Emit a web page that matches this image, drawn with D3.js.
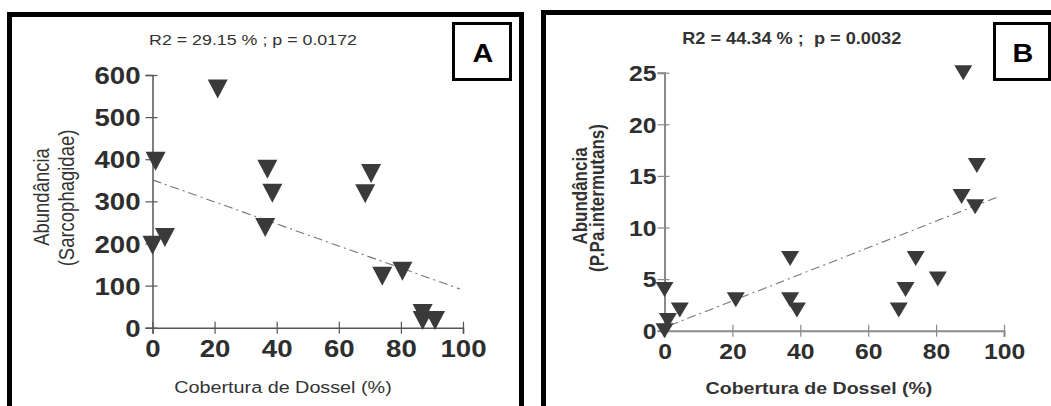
<!DOCTYPE html>
<html><head><meta charset="utf-8">
<script src="https://cdn.jsdelivr.net/npm/d3@7"></script>
<style>
body{margin:0;background:#fff}
svg{display:block}
text{font-family:"Liberation Sans",Arial,Helvetica,sans-serif;white-space:pre}
</style>
</head><body>
<svg id="c" width="1051" height="406"></svg>
<script>
// ---- data ----
const xTicks = [0, 20, 40, 60, 80, 100];
const yTicksA = [0, 100, 200, 300, 400, 500, 600];
const yTicksB = [0, 5, 10, 15, 20, 25];
const coverA = [21, 1, 37, 38.6, 70.4, 68.5, 36.3, 0, 4, 74, 80.5, 87, 87, 91];
const abundA = [567, 395, 376, 319, 366, 318, 238, 196, 214, 122, 134, 34, 17, 17];
const trendA = [[0, 351], [99, 92]];
const coverB = [88, 92, 87.5, 91.5, 37, 74, 80.5, 71, 69, 37, 39, 21, 4.5, 0, 1, 0];
const abundB = [25, 16, 13, 12, 7, 7, 5, 4, 2, 3, 2, 3, 2, 4, 1, 0];
const trendB = [[1.5, 0.5], [98.5, 13]];
const titleA = "R2 = 29.15 % ; p = 0.0172";
const titleB = "R2 = 44.34 % ;  p = 0.0032";
const xLabel = "Cobertura de Dossel (%)";
const yLabelA = ["Abundância", "(Sarcophagidae)"];
const yLabelB = ["Abundância", "(P.Pa.intermutans)"];
const panelLetters = ["A", "B"];

const SX = 1.15; // horizontal text stretch of the original picture
const svg = d3.select("#c");

function stext(g, x, y, str, o) {
  const t = g.append("text")
    .attr("transform", `translate(${x},${y})` + (o.rot ? ` rotate(-90) scale(1,${SX})` : ` scale(${SX},1)`))
    .attr("text-anchor", o.anchor || "middle")
    .attr("font-size", o.size)
    .attr("font-weight", o.bold ? "bold" : "normal")
    .attr("fill", o.fill || "#333")
    .text(str);
  if (o.central) t.attr("dominant-baseline", "central");
  return t;
}

function drawPanel(p) {
  const g = svg.append("g");
  const x = d3.scaleLinear().domain([0, 100]).range(p.xr);
  const y = d3.scaleLinear().domain(p.yd).range(p.yr);

  // title
  stext(g, p.titlePos[0], p.titlePos[1], p.title, {size: p.titleSize, bold: p.bold});

  // axes
  const xa = g.append("g").attr("transform", `translate(0,${p.yr[0]})`)
    .call(d3.axisBottom(x).tickValues(xTicks).tickSizeOuter(0).tickSize(6).tickFormat(d3.format("d")));
  const ya = g.append("g").attr("transform", `translate(${p.xr[0]},0)`)
    .call(d3.axisLeft(y).tickValues(p.yTicks).tickSizeOuter(0).tickSize(7).tickFormat(d3.format("d")));
  [xa, ya].forEach(a => {
    a.select(".domain").attr("stroke", p.axisColor).attr("stroke-width", p.axisW);
    a.selectAll(".tick line").attr("stroke", p.axisColor).attr("stroke-width", 1.2);
    a.selectAll(".tick text")
      .attr("font-family", '"Liberation Sans",Arial,sans-serif')
      .attr("font-weight", "bold").attr("font-size", p.tickSize).attr("fill", "#2e2e2e");
  });
  xa.selectAll(".tick line").attr("y1", -6).attr("y2", 6);
  ya.selectAll(".tick line").attr("x1", 5).attr("x2", -7);
  xa.selectAll(".tick text").attr("y", 0).attr("dy", 0)
    .attr("transform", `translate(0,${p.xTickBase}) scale(${SX},1)`);
  ya.selectAll(".tick text").attr("x", 0).attr("dy", "0.36em")
    .attr("transform", `translate(${-p.yTickGap},0) scale(${SX},1)`);

  // trend line
  g.append("path")
    .attr("d", d3.line().x(d => x(d[0])).y(d => y(d[1]))(p.trend))
    .attr("fill", "none").attr("stroke", "#777").attr("stroke-width", 1.1)
    .attr("stroke-dasharray", "9,4,2,4");

  // points (down triangles)
  const w = p.triW, h = p.triH;
  g.selectAll("path.pt").data(p.xs.map((v, i) => [v, p.ys[i]])).enter()
    .append("path").attr("class", "pt")
    .attr("transform", d => `translate(${x(d[0])},${y(d[1])})`)
    .attr("d", `M${-w / 2},${-h / 2}L${w / 2},${-h / 2}L0,${h / 2}Z`)
    .attr("fill", "#3a3a3a");

  // axis titles
  stext(g, p.xTitlePos[0], p.xTitlePos[1], xLabel, {size: p.xTitleSize, bold: p.bold});
  stext(g, p.yLab1[0], p.yLab1[1], p.yLabel[0], {size: p.yLabSize, bold: p.bold, rot: true, central: true});
  stext(g, p.yLab2[0], p.yLab2[1], p.yLabel[1], {size: p.yLabSize, bold: p.bold, rot: true, central: true});

  // frame
  svg.append("path").attr("d", p.frame).attr("fill", "none").attr("stroke", "#000").attr("stroke-width", 5);
  // letter box
  svg.append("rect").attr("x", p.box[0]).attr("y", p.box[1]).attr("width", p.box[2]).attr("height", p.box[3])
    .attr("fill", "#fff").attr("stroke", "#000").attr("stroke-width", 3);
  stext(svg, p.box[0] + p.box[2] / 2 + 1, p.box[1] + 38, p.letter, {size: 25, bold: true, fill: "#000"});
}

drawPanel({
  xr: [152.5, 463], yd: [0, 600], yr: [327.7, 75], yTicks: yTicksA,
  xs: coverA, ys: abundA, trend: trendA,
  title: titleA, titlePos: [253, 45], titleSize: 15.5, bold: false,
  axisColor: "#555", axisW: 1.5, tickSize: 24, xTickBase: 29, yTickGap: 12,
  triW: 20, triH: 19,
  xTitlePos: [283, 393], xTitleSize: 17.2,
  yLabel: yLabelA, yLabSize: 18.5, yLab1: [42, 197], yLab2: [67, 198],
  frame: "M9.5,420V14.5H521.5V420", box: [453.5, 23.5, 57, 56], letter: panelLetters[0]
});
drawPanel({
  xr: [664.5, 1004], yd: [0, 25], yr: [330.7, 72.7], yTicks: yTicksB,
  xs: coverB, ys: abundB, trend: trendB,
  title: titleB, titlePos: [791.7, 43.5], titleSize: 15.8, bold: true,
  axisColor: "#8a8a8a", axisW: 2, tickSize: 21.5, xTickBase: 28.5, yTickGap: 8,
  triW: 18, triH: 15,
  xTitlePos: [819, 394], xTitleSize: 17,
  yLabel: yLabelB, yLabSize: 17, yLab1: [580, 196], yLab2: [597.5, 198],
  frame: "M543.5,420V12.5H1060", box: [994.5, 23.5, 55, 56], letter: panelLetters[1]
});
</script>
</body></html>
